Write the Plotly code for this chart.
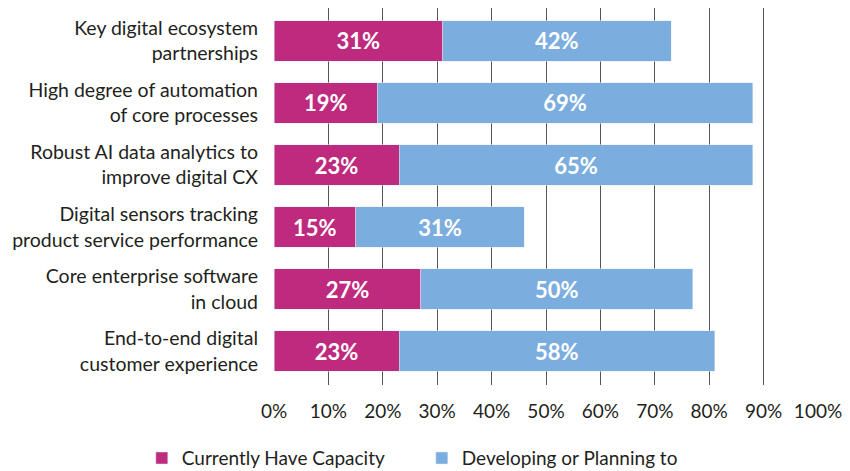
import plotly.graph_objects as go

categories = [
    "Key digital ecosystem<br>partnerships",
    "High degree of automation<br>of core processes",
    "Robust AI data analytics to<br>improve digital CX",
    "Digital sensors tracking<br>product service performance",
    "Core enterprise software<br>in cloud",
    "End-to-end digital<br>customer experience",
]
have_capacity = [31, 19, 23, 15, 27, 23]
developing = [42, 69, 65, 31, 50, 58]
x_ticks = [0, 10, 20, 30, 40, 50, 60, 70, 80, 90, 100]

font_family = "Lato, 'Noto Sans', sans-serif"
text_color = "#231F20"

fig = go.Figure()
fig.add_trace(go.Bar(
    y=categories, x=have_capacity, orientation="h",
    name="Currently Have Capacity", marker_color="#BE2A7E",
    text=[f"{v}%" for v in have_capacity], textposition="inside",
    insidetextanchor="middle", textangle=0,
    textfont=dict(color="white", size=22, family=font_family, weight="bold"),
))
fig.add_trace(go.Bar(
    y=categories, x=developing, orientation="h",
    name="Developing or Planning to", marker_color="#7BAEDE",
    text=[f"{v}%" for v in developing], textposition="inside",
    insidetextanchor="middle", textangle=0,
    textfont=dict(color="white", size=22, family=font_family, weight="bold"),
))

# the page body keeps an 8px browser margin, so the figure is sized to fit
fig.update_layout(
    barmode="stack",
    bargap=0.34,
    width=842, height=463,
    margin=dict(l=266, r=32, t=0, b=86, autoexpand=False),
    plot_bgcolor="white", paper_bgcolor="white",
    font=dict(family=font_family, size=19, color=text_color),
    uniformtext=dict(minsize=10, mode="show"),
    legend=dict(
        orientation="h", x=-0.243, xanchor="left", y=-0.194, yanchor="middle",
        font=dict(size=19), traceorder="normal",
        entrywidth=235, entrywidthmode="pixels",
    ),
    xaxis=dict(
        range=[0, 100], tickvals=x_ticks,
        ticktext=[f"{v}%" for v in x_ticks],
        showgrid=True, gridcolor="#555555", gridwidth=1,
        zeroline=False, showline=False, automargin=False,
        ticklabelstandoff=13, tickfont=dict(size=19),
    ),
    yaxis=dict(
        autorange=False, range=[5.548, -0.532],
        showgrid=False, zeroline=False, showline=False, automargin=False,
        ticklabelstandoff=15, tickfont=dict(size=19.5),
    ),
)

fig.write_html("out.html")
